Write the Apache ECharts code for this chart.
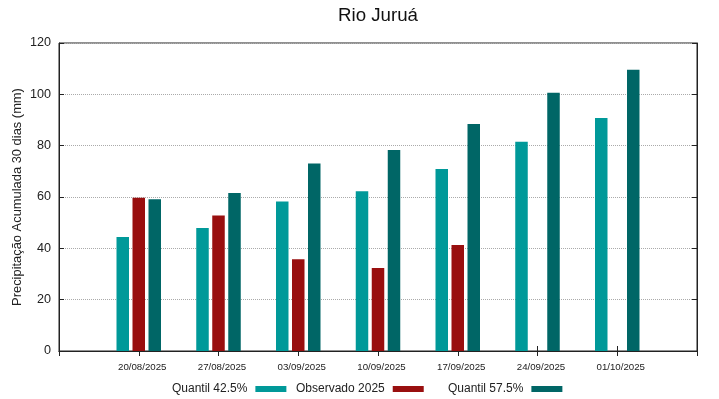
<!DOCTYPE html>
<html>
<head>
<meta charset="utf-8">
<script src="https://cdn.jsdelivr.net/npm/echarts@6/dist/echarts.min.js"></script>
<style>
  html, body { margin: 0; padding: 0; background: #fff; }
  #chart { width: 719px; height: 399px; }
</style>
</head>
<body>
<div id="chart"></div>
<script>
// dates shown on the x axis (one empty slot each side, like the original plot)
const dates = ["20/08/2025", "27/08/2025", "03/09/2025", "10/09/2025", "17/09/2025", "24/09/2025", "01/10/2025"];
const q425 = [44.4, 47.9, 58.2, 62.2, 70.9, 81.5, 90.8];
const obs2025 = [59.7, 52.8, 35.7, 32.3, 41.3, null, null];
const q575 = [59.1, 61.6, 73.1, 78.3, 88.4, 100.6, 109.6];
const yTicks = [0, 20, 40, 60, 80, 100, 120];

const font = "Liberation Sans, Arial, sans-serif";
const pad = (arr) => [null, ...arr, null];
const cats = ["", ...dates, ""];

const chart = echarts.init(document.getElementById("chart"), null, { renderer: "canvas" });

const axisLine = { show: true, lineStyle: { color: "#222", width: 1 } };
const tick = { show: true, inside: true, length: 5, interval: 0, lineStyle: { color: "#222" } };

function legend(name, left) {
  return {
    data: [name],
    left: left,
    top: 383,
    padding: 0,
    align: "right",
    icon: "rect",
    itemWidth: 31,
    itemHeight: 6,
    selectedMode: false,
    textStyle: { fontFamily: font, fontSize: 12, color: "#222", padding: [0, 3, 0, 0] },
  };
}

chart.setOption({
  animation: false,
  title: {
    text: "Rio Juruá",
    left: 378,
    textAlign: "center",
    top: 6,
    padding: 0,
    textStyle: { fontFamily: font, fontSize: 18.7, fontWeight: "normal", color: "#111" },
  },
  legend: [
    legend("Quantil 42.5%", 172),
    legend("Observado 2025", 296),
    legend("Quantil 57.5%", 448),
  ],
  grid: { left: 59, right: 22, top: 43, bottom: 48, show: true, borderColor: "#222", borderWidth: 1 },
  xAxis: [
    {
      type: "category",
      data: cats,
      boundaryGap: false,
      axisLine: axisLine,
      axisTick: tick,
      axisLabel: { interval: 0, fontFamily: font, fontSize: 9.7, color: "#222", margin: 11, padding: [0, 0, 0, 7] },
      splitLine: { show: false },
    },
    {
      type: "category",
      data: cats,
      position: "top",
      boundaryGap: false,
      axisLine: axisLine,
      axisTick: tick,
      axisLabel: { show: false },
    },
  ],
  yAxis: [
    {
      type: "value",
      min: yTicks[0],
      max: yTicks[yTicks.length - 1],
      interval: 20,
      name: "Precipitação Acumulada 30 dias (mm)",
      nameLocation: "middle",
      nameGap: 42,
      nameMoveOverlap: false,
      nameTextStyle: { fontFamily: font, fontSize: 12.9, color: "#222", verticalAlign: "middle" },
      axisLine: axisLine,
      axisTick: { show: true, inside: true, length: 5, lineStyle: { color: "#222" } },
      axisLabel: { fontFamily: font, fontSize: 12.6, color: "#222", margin: 8 },
      splitLine: { show: true, lineStyle: { type: "dotted", color: "#aaa", width: 1 } },
    },
    {
      type: "value",
      min: yTicks[0],
      max: yTicks[yTicks.length - 1],
      interval: 20,
      position: "right",
      axisLine: axisLine,
      axisTick: { show: true, inside: true, length: 5, lineStyle: { color: "#222" } },
      axisLabel: { show: false },
      splitLine: { show: false },
    },
  ],
  series: [
    { name: "Quantil 42.5%", type: "bar", data: pad(q425), barWidth: 12.5, barGap: "28%", itemStyle: { color: "#009999" } },
    { name: "Observado 2025", type: "bar", data: pad(obs2025), barWidth: 12.5, barGap: "28%", itemStyle: { color: "#990f0f" } },
    { name: "Quantil 57.5%", type: "bar", data: pad(q575), barWidth: 12.5, barGap: "28%", itemStyle: { color: "#006666" } },
  ],
});
</script>
</body>
</html>
